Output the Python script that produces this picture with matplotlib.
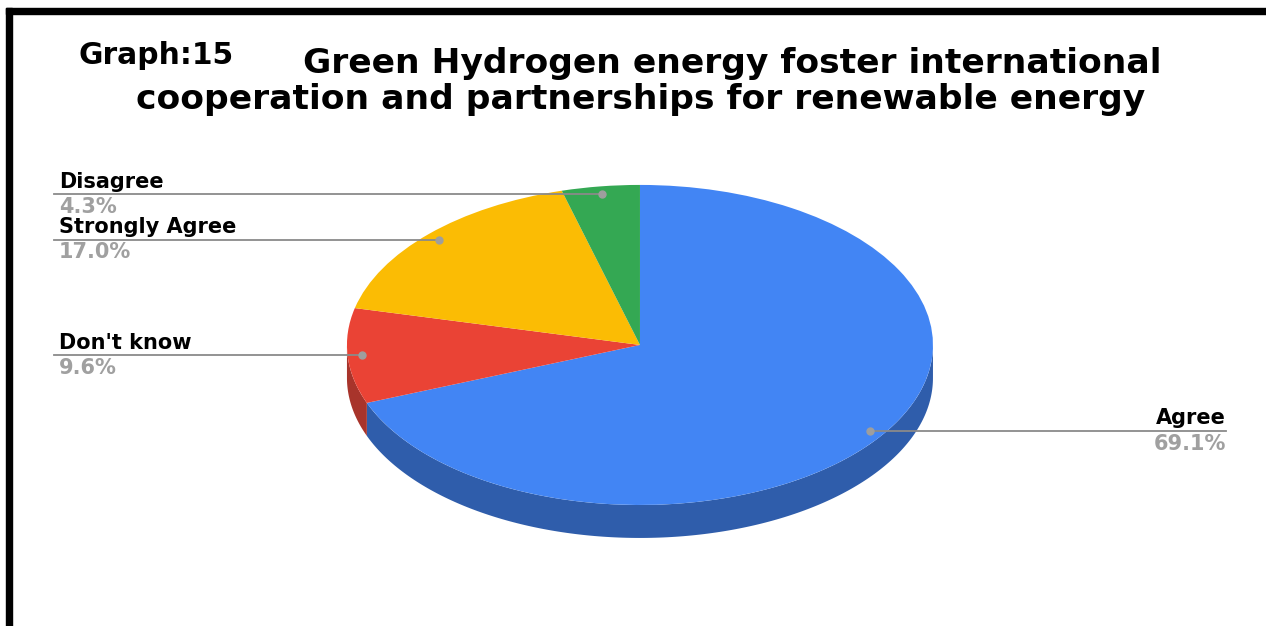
import numpy as np
import matplotlib.pyplot as plt
from matplotlib.patches import Rectangle

labels = ["Agree", "Don't know", "Strongly Agree", "Disagree"]
shares = [69.1, 9.6, 17.0, 4.3]
colors = ["#4285f4", "#ea4335", "#fbbc04", "#34a853"]
side_colors = ["#2f5dab", "#a8342b", "#b08403", "#257639"]

title_1 = "Green Hydrogen energy foster international"
title_2 = "cooperation and partnerships for renewable energy"

plt.rcParams["font.family"] = ["DejaVu Sans"]

W, H = 1266, 626
fig = plt.figure(figsize=(W / 100, H / 100), dpi=100)
fig.patch.set_facecolor("white")

# axes sized so that the unit circle becomes the flattened pie ellipse
ax = fig.add_axes([0.2162, 0.0655, 0.5786, 0.703])
depth = 0.206

frac = np.array(shares) / sum(shares)
ends = 90 - 360 * np.cumsum(frac)
starts = np.r_[90, ends[:-1]]

# side walls, only the front half of the disc is visible
for s, e, c in zip(starts, ends, side_colors):
    lo, hi = max(e, -180), min(s, 0)
    if lo < hi:
        t = np.radians(np.linspace(lo, hi, 200))
        xs = np.r_[np.cos(t), np.cos(t[::-1])]
        ys = np.r_[np.sin(t), np.sin(t[::-1]) - depth]
        ax.fill(xs, ys, color=c, lw=0)

ax.pie(shares, colors=colors, startangle=90, counterclock=False, radius=1,
       wedgeprops=dict(linewidth=0))
ax.set_aspect("auto")
ax.set_xlim(-1.25, 1.25)
ax.set_ylim(-1.5, 1.25)
ax.axis("off")

# leader lines and labels
for lab, pct, s, e in zip(labels, shares, starts, ends):
    mid = np.radians((s + e) / 2)
    px, py = 0.95 * np.cos(mid), 0.95 * np.sin(mid)
    side = 1 if px > 0 else -1
    lx = 2.0 * side
    ax.plot([px, lx], [py, py], color="#8a8a8a", lw=1.3, clip_on=False)
    ax.plot(px, py, "o", color="#9e9e9e", ms=5, clip_on=False)
    ha = "right" if side > 0 else "left"
    tx = lx if side > 0 else lx + 0.017
    ax.annotate(lab, (tx, py), xytext=(0, 2), textcoords="offset points",
                ha=ha, va="bottom", fontsize=15, fontweight="bold",
                color="black", annotation_clip=False)
    ax.annotate(f"{pct:.1f}%", (tx, py), xytext=(0, -2), textcoords="offset points",
                ha=ha, va="top", fontsize=15, fontweight="bold",
                color="#a0a0a0", annotation_clip=False)

# titles
fig.text(732 / W, 1 - 64 / H, title_1, ha="center", va="center",
         fontsize=24.8, fontweight="bold")
fig.text(641 / W, 1 - 99 / H, title_2, ha="center", va="center",
         fontsize=24.8, fontweight="bold")
fig.text(78 / W, 1 - 55 / H, "Graph:15", ha="left", va="center",
         fontsize=21.4, fontweight="bold")

# black frame on the top and left edges
fig.patches.append(Rectangle((6 / W, 1 - 14 / H), 1 - 6 / W, 6 / H,
                             transform=fig.transFigure, color="black", zorder=5))
fig.patches.append(Rectangle((6 / W, 0), 6 / W, 1 - 8 / H,
                             transform=fig.transFigure, color="black", zorder=5))

fig.savefig("out.png", dpi=100, facecolor="white")
